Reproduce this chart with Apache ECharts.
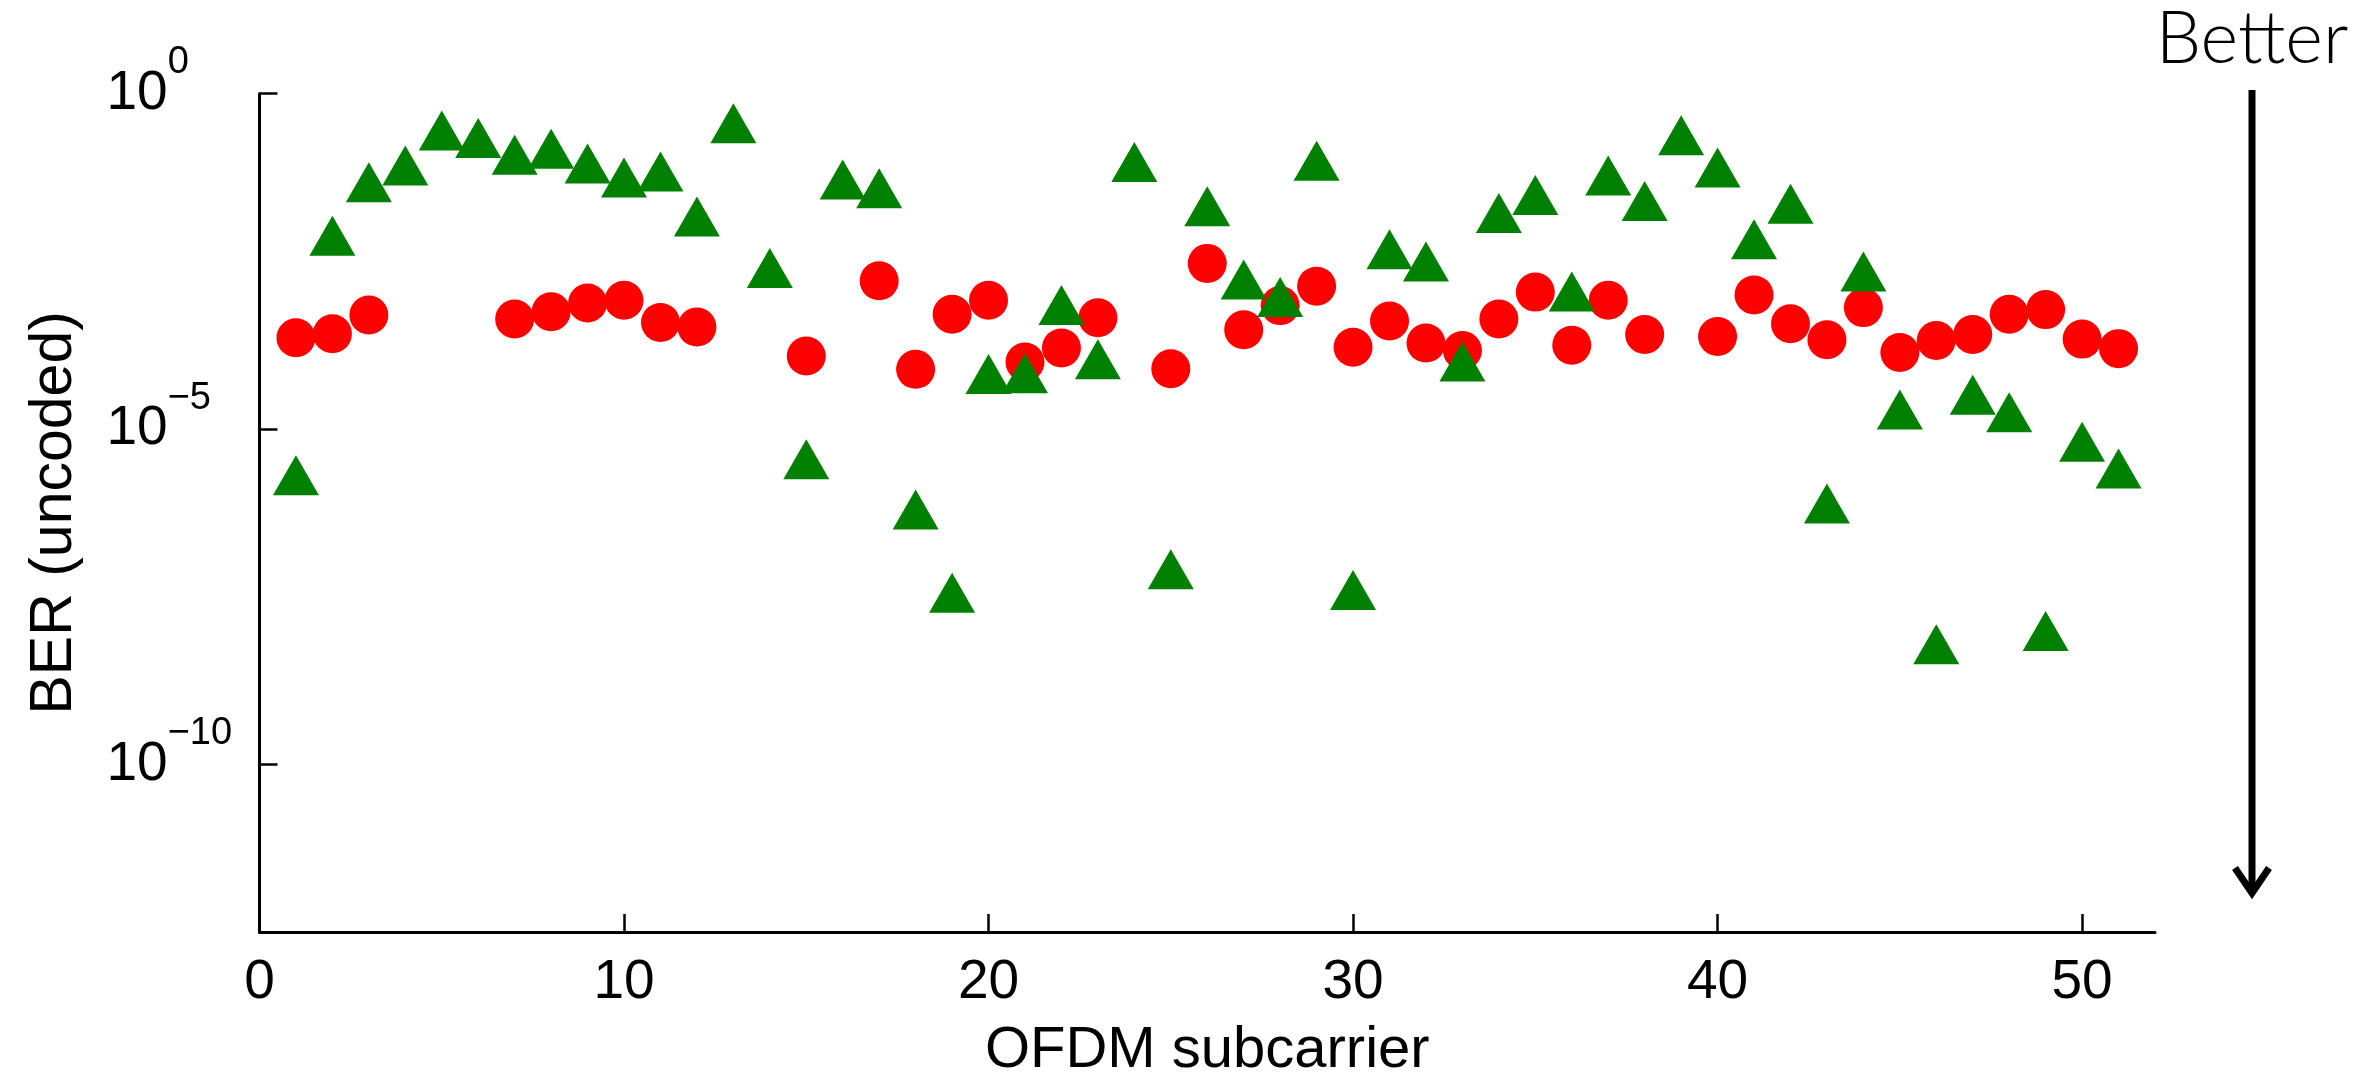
<!DOCTYPE html>
<html>
<head>
<meta charset="utf-8">
<title>BER per OFDM subcarrier</title>
<script src="https://cdn.jsdelivr.net/npm/echarts@6/dist/echarts.min.js"></script>
<style>
  html, body { margin: 0; padding: 0; background: #ffffff; }
  #chart { width: 2363px; height: 1084px; }
</style>
</head>
<body>
<div id="chart"></div>
<script>
// Subcarrier indices (x)
const subcarrier = [1, 2, 3, 4, 5, 6, 7, 8, 9, 10,
  11, 12, 13, 14, 15, 16, 17, 18, 19, 20,
  21, 22, 23, 24, 25, 26, 27, 28, 29, 30,
  31, 32, 33, 34, 35, 36, 37, 38, 39, 40,
  41, 42, 43, 44, 45, 46, 47, 48, 49, 50, 51];

// Uncoded BER, red circles (null = no bit errors, nothing plotted on the log scale)
const berCircle = [2.29e-4, 2.63e-4, 5.01e-4, null, null, null, 4.37e-4, 5.62e-4, 7.59e-4, 8.32e-4,
  3.89e-4, 3.31e-4, null, null, 1.23e-4, null, 1.62e-3, 7.76e-5, 5.13e-4, 8.32e-4,
  1.00e-4, 1.62e-4, 4.57e-4, null, 7.94e-5, 2.95e-3, 3.02e-4, 6.92e-4, 1.35e-3, 1.66e-4,
  4.07e-4, 1.91e-4, 1.48e-4, 4.37e-4, 1.10e-3, 1.78e-4, 8.32e-4, 2.57e-4, null, 2.40e-4,
  1.00e-3, 3.72e-4, 2.14e-4, 6.46e-4, 1.38e-4, 2.09e-4, 2.57e-4, 5.13e-4, 6.03e-4, 2.19e-4, 1.58e-4];

// Uncoded BER, green triangles
const berTriangle = [2.04e-6, 7.59e-3, 4.79e-2, 8.51e-2, 0.282, 0.219, 0.123, 0.151, 9.12e-2, 5.62e-2,
  6.92e-2, 1.48e-2, 0.363, 2.51e-3, 3.55e-6, 5.25e-2, 3.89e-2, 6.31e-7, 3.63e-8, 6.61e-5,
  6.76e-5, 7.08e-4, 1.10e-4, 9.55e-2, 8.13e-8, 2.09e-2, 1.70e-3, 9.33e-4, 0.100, 3.98e-8,
  4.79e-3, 3.16e-3, 1.02e-4, 1.66e-2, 3.09e-2, 1.12e-3, 6.03e-2, 2.51e-2, 0.240, 7.94e-2,
  6.76e-3, 2.29e-2, 7.76e-7, 2.24e-3, 1.95e-5, 6.17e-9, 3.24e-5, 1.78e-5, 9.77e-9, 6.46e-6, 2.57e-6];

// Axis ticks and texts
const xTicks = [0, 10, 20, 30, 40, 50];
const yTicks = [1e-10, 1e-5, 1];
const xTitle = 'OFDM subcarrier';
const yTitle = 'BER (uncoded)';
const arrowText = 'Better';

const FONT = 'Liberation Sans';

function toPoints(values) {
  const out = [];
  values.forEach(function (v, i) {
    if (v !== null) out.push([subcarrier[i], v]);
  });
  return out;
}

// "10" with a raised exponent, e.g. 10^-5
function powerLabel(value) {
  const e = Math.round(Math.log10(value));
  const exp = e === 0 ? '0' : '\u2212' + String(-e);
  return '{b|10}{s|' + exp + '}';
}

const chart = echarts.init(document.getElementById('chart'), null, { renderer: 'canvas' });

chart.setOption({
  animation: false,
  backgroundColor: '#ffffff',
  grid: {
    left: 259.5, top: 93.7, right: 208, bottom: 152,
    containLabel: false, outerBoundsMode: 'none'
  },
  xAxis: {
    type: 'value',
    min: 0, max: 52, interval: 10,
    axisLine: { show: true, onZero: false, lineStyle: { color: '#000', width: 3 } },
    axisTick: {
      show: true, inside: true, length: 18,
      customValues: xTicks.slice(1),
      lineStyle: { color: '#000', width: 2.5 }
    },
    axisLabel: {
      customValues: xTicks,
      color: '#000', fontFamily: FONT, fontSize: 55, margin: 23
    },
    splitLine: { show: false },
    name: xTitle,
    nameLocation: 'middle',
    nameGap: 90,
    nameTextStyle: { color: '#000', fontFamily: FONT, fontSize: 58 }
  },
  yAxis: {
    type: 'log',
    logBase: 10,
    min: Math.pow(10, -12.5), max: 1,
    axisLine: { show: true, onZero: false, lineStyle: { color: '#000', width: 3 } },
    axisTick: {
      show: true, inside: true, length: 18,
      customValues: yTicks,
      lineStyle: { color: '#000', width: 2.5 }
    },
    axisLabel: {
      customValues: yTicks,
      align: 'left',
      margin: 153,
      formatter: powerLabel,
      rich: {
        b: { fontFamily: FONT, fontSize: 55, lineHeight: 100, color: '#000' },
        s: { fontFamily: FONT, fontSize: 38, lineHeight: 40, verticalAlign: 'top', color: '#000' }
      }
    },
    splitLine: { show: false },
    name: yTitle,
    nameLocation: 'middle',
    nameRotate: 90,
    nameGap: 175,
    nameTextStyle: { color: '#000', fontFamily: FONT, fontSize: 59 }
  },
  series: [
    {
      type: 'scatter',
      name: 'circle',
      data: toPoints(berCircle),
      symbol: 'circle',
      symbolSize: 39,
      itemStyle: { color: '#ff0000', opacity: 1 },
      emphasis: { disabled: true },
      z: 2
    },
    {
      type: 'scatter',
      name: 'triangle',
      data: toPoints(berTriangle),
      symbol: 'triangle',
      symbolSize: [46, 40],
      itemStyle: { color: '#008000', opacity: 1 },
      emphasis: { disabled: true },
      z: 3
    }
  ],
  graphic: [
    {
      type: 'text',
      x: 2252, y: 40,
      style: {
        text: arrowText,
        fill: '#000',
        fontFamily: 'Lato',
        fontWeight: 300,
        fontSize: 72,
        align: 'center',
        verticalAlign: 'middle'
      }
    },
    {
      type: 'line',
      shape: { x1: 2252, y1: 90, x2: 2252, y2: 893 },
      style: { stroke: '#000', lineWidth: 7 }
    },
    {
      type: 'polyline',
      shape: { points: [[2235, 868], [2252, 893], [2269, 868]] },
      style: { stroke: '#000', lineWidth: 7, lineJoin: 'miter', fill: null }
    }
  ]
});
</script>
</body>
</html>
